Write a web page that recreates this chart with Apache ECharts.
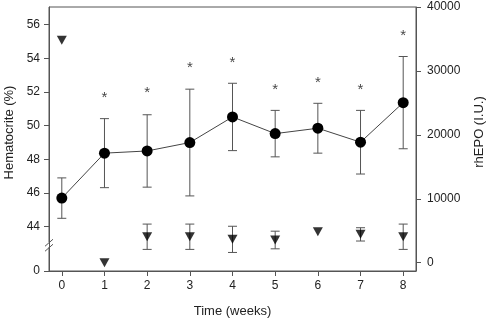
<!DOCTYPE html>
<html>
<head>
<meta charset="utf-8">
<script src="https://cdn.jsdelivr.net/npm/echarts@6/dist/echarts.min.js"></script>
<style>html,body{margin:0;padding:0;background:#fff}#chart{width:490px;height:324px}</style>
</head>
<body>
<div id="chart"></div>
<script>
const weeks = [0, 1, 2, 3, 4, 5, 6, 7, 8];
const hctMean = [45.7, 48.37, 48.5, 49.0, 50.52, 49.53, 49.85, 49.02, 51.37];
const hctSd = [1.2, 2.05, 2.15, 3.17, 2.0, 1.38, 1.48, 1.89, 2.74];
const starAt = [null, 51.63, 51.93, 53.41, 53.74, 52.12, 52.56, 52.12, 55.33];
const epoMean = [34800, 0, 4060, 4060, 3650, 3550, 4840, 4430, 4060];
const epoSd = [0, 0, 1980, 1980, 2050, 1380, 0, 1040, 1980];
const hctTicks = [44, 46, 48, 50, 52, 54, 56];
const epoTicks = [0, 10000, 20000, 30000, 40000];
const HCT_MIN = 41.37;   // the "0" below the axis break
const HCT_MAX = 57.05;
const BREAK_AT = 42.9;

const FONT = 'Liberation Sans, Arial, sans-serif';
const INK = '#222';

const chart = echarts.init(document.getElementById('chart'));

function errorBars(means, sds, yAxisIndex, half) {
  const data = [];
  weeks.forEach((w, i) => {
    if (sds[i] > 0) data.push([w, means[i] - sds[i], means[i] + sds[i]]);
  });
  return {
    type: 'custom',
    yAxisIndex: yAxisIndex,
    z: 1,
    silent: true,
    encode: {x: 0, y: [1, 2]},
    data: data,
    renderItem: function (params, api) {
      const lo = api.coord([api.value(0), api.value(1)]);
      const hi = api.coord([api.value(0), api.value(2)]);
      const style = {stroke: '#555', lineWidth: 1};
      return {
        type: 'group',
        children: [
          {type: 'line', shape: {x1: lo[0], y1: lo[1], x2: hi[0], y2: hi[1]}, style: style},
          {type: 'line', shape: {x1: lo[0] - half, y1: lo[1], x2: lo[0] + half, y2: lo[1]}, style: style},
          {type: 'line', shape: {x1: hi[0] - half, y1: hi[1], x2: hi[0] + half, y2: hi[1]}, style: style}
        ]
      };
    }
  };
}

const axisLabelStyle = {color: INK, fontSize: 12, fontFamily: FONT};
const lineStyle = {color: '#555', width: 1};

chart.setOption({
  animation: false,
  grid: {
    left: 49, right: 74, top: 7, bottom: 53,
    outerBoundsMode: 'none',
    show: true, borderColor: '#555', borderWidth: 1
  },
  xAxis: {
    type: 'value', min: -0.3, max: 8.3,
    name: 'Time (weeks)', nameLocation: 'middle', nameGap: 34,
    nameTextStyle: {color: INK, fontSize: 13, fontFamily: FONT},
    axisLine: {show: true, onZero: false, lineStyle: lineStyle},
    axisTick: {show: true, length: 5, customValues: weeks, lineStyle: lineStyle},
    axisLabel: Object.assign({margin: 9, customValues: weeks}, axisLabelStyle),
    splitLine: {show: false}
  },
  yAxis: [{
    type: 'value', min: HCT_MIN, max: HCT_MAX, position: 'left',
    name: 'Hematocrite (%)', nameLocation: 'middle', nameGap: 15, nameRotate: 90,
    nameTextStyle: {color: INK, fontSize: 13, fontFamily: FONT, padding: [0, 0, 0, 13]},
    axisLine: {show: true, onZero: false, lineStyle: lineStyle},
    axisTick: {show: true, length: 5, customValues: [HCT_MIN].concat(hctTicks), lineStyle: lineStyle},
    axisLabel: Object.assign({
      margin: 9,
      customValues: [HCT_MIN].concat(hctTicks),
      formatter: v => (v < BREAK_AT ? '0' : String(v))
    }, axisLabelStyle),
    splitLine: {show: false}
  }, {
    type: 'value', min: -1300, max: 40000, position: 'right',
    name: 'rhEPO (I.U.)', nameLocation: 'middle', nameGap: 57, nameRotate: 90,
    nameTextStyle: {color: INK, fontSize: 13, fontFamily: FONT, padding: [0, 0, 0, 14]},
    axisLine: {show: true, onZero: false, lineStyle: lineStyle},
    axisTick: {show: true, length: 5, customValues: epoTicks, lineStyle: lineStyle},
    axisLabel: Object.assign({margin: 11, customValues: epoTicks, formatter: v => String(v)}, axisLabelStyle),
    splitLine: {show: false}
  }],
  series: [
    errorBars(hctMean, hctSd, 0, 4.5),
    errorBars(epoMean, epoSd, 1, 4.5),
    {
      type: 'line', yAxisIndex: 0, z: 2,
      data: weeks.map((w, i) => [w, hctMean[i]]),
      symbol: 'circle', symbolSize: 11,
      lineStyle: {color: '#444', width: 1},
      itemStyle: {color: '#000'}
    },
    {
      type: 'scatter', yAxisIndex: 1, z: 3,
      data: weeks.map((w, i) => [w, epoMean[i]]),
      symbol: 'triangle', symbolRotate: 180, symbolSize: [10, 9],
      itemStyle: {color: '#000'}
    },
    {
      type: 'scatter', yAxisIndex: 0, z: 3,
      data: weeks.map((w, i) => [w, starAt[i]]).filter(d => d[1] !== null),
      symbolSize: 1, itemStyle: {color: 'rgba(0,0,0,0)'},
      label: {show: true, position: 'inside', formatter: '*', color: '#111', fontSize: 15, fontFamily: FONT}
    }
  ]
});

// axis break mark on the left axis
const bx = chart.convertToPixel({xAxisIndex: 0}, -0.3);
const by = chart.convertToPixel({yAxisIndex: 0}, BREAK_AT);
chart.setOption({
  graphic: [{
    type: 'group', x: bx, y: by, z: 10,
    children: [
      {type: 'rect', shape: {x: -2, y: -3, width: 4, height: 5}, style: {fill: '#fff'}},
      {type: 'line', shape: {x1: -4, y1: 1, x2: 4, y2: -6}, style: {stroke: '#555', lineWidth: 1}},
      {type: 'line', shape: {x1: -4, y1: 6, x2: 4, y2: -1}, style: {stroke: '#555', lineWidth: 1}}
    ]
  }]
});
</script>
</body>
</html>
